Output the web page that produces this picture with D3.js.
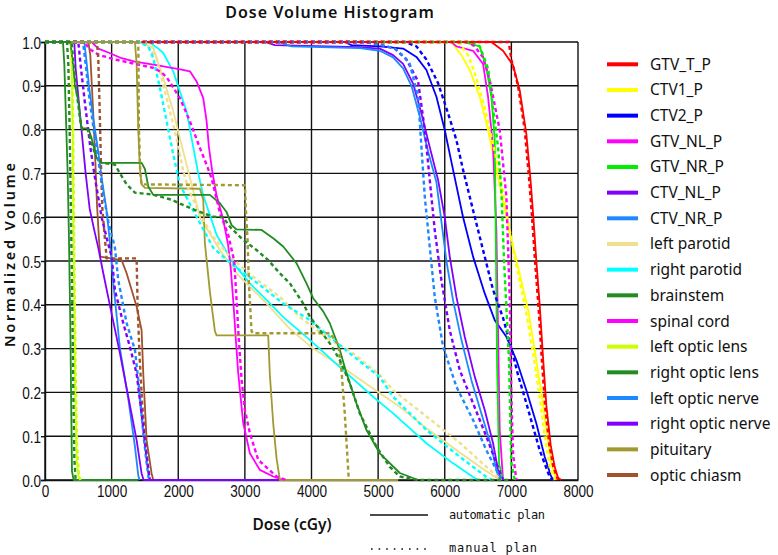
<!DOCTYPE html>
<html><head><meta charset="utf-8">
<script src="https://cdn.jsdelivr.net/npm/d3@7"></script>
<style>body{margin:0;background:#fff}svg{display:block}</style>
</head><body><svg id="c" width="778" height="555"></svg>
<script>
// ---------- DATA ----------
const structureNames = ["GTV_T_P","CTV1_P","CTV2_P","GTV_NL_P","GTV_NR_P","CTV_NL_P","CTV_NR_P",
  "left parotid","right parotid","brainstem","spinal cord","left optic lens","right optic lens",
  "left optic nerve","right optic nerve","pituitary","optic chiasm"];
const xTickValues = [0,1000,2000,3000,4000,5000,6000,7000,8000];
const yTickValues = [0,0.1,0.2,0.3,0.4,0.5,0.6,0.7,0.8,0.9,1.0];
const planLabels = ["automatic plan","manual plan"];

// [dose cGy, normalized volume]
const gtvT_auto = [[1450,1],[6700,1],[6875,0.98],[7025,0.947],[7125,0.89],[7225,0.79],[7290,0.68],[7330,0.6],[7375,0.5],[7425,0.4],[7475,0.28],[7525,0.17],[7590,0.08],[7650,0.03],[7700,0.005],[7750,0]];
const gtvT_manual = [[1450,1],[6960,1],[7000,0.96],[7100,0.9],[7200,0.8],[7270,0.68],[7310,0.6],[7355,0.5],[7405,0.4],[7455,0.28],[7505,0.17],[7570,0.08],[7630,0.03],[7700,0]];
const ctv1_auto = [[0,1],[6100,1],[6250,0.97],[6375,0.936],[6525,0.875],[6650,0.799],[6775,0.708],[6925,0.6],[7075,0.502],[7250,0.39],[7350,0.297],[7450,0.2],[7525,0.114],[7600,0.038],[7675,0]];
const ctv1_manual = [[0,1],[6200,1],[6350,0.97],[6450,0.93],[6600,0.85],[6750,0.75],[6850,0.68],[6950,0.59],[7075,0.49],[7225,0.38],[7325,0.29],[7425,0.19],[7500,0.1],[7575,0.03],[7650,0]];
const ctv2_auto = [[0,1],[4500,1],[4600,0.993],[5025,0.99],[5375,0.985],[5575,0.966],[5725,0.936],[5875,0.875],[6000,0.799],[6125,0.708],[6275,0.6],[6425,0.51],[6600,0.426],[6750,0.365],[6925,0.327],[7075,0.274],[7225,0.205],[7375,0.129],[7500,0.053],[7600,0.007],[7650,0]];
const ctv2_manual = [[0,1],[5400,1],[5575,0.99],[5725,0.96],[5900,0.906],[6050,0.837],[6175,0.776],[6275,0.708],[6425,0.616],[6575,0.525],[6725,0.434],[6875,0.37],[7000,0.3],[7100,0.24],[7225,0.175],[7425,0.068],[7575,0.007],[7625,0]];
const gtvNL_auto = [[0,1],[6100,1],[6175,0.99],[6425,0.98],[6575,0.95],[6650,0.875],[6725,0.76],[6775,0.57],[6800,0.34],[6825,0.114],[6875,0]];
const gtvNL_manual = [[0,1],[6350,1],[6450,0.99],[6575,0.965],[6675,0.913],[6825,0.799],[6925,0.647],[6975,0.418],[7000,0.19],[7025,0.06],[7075,0]];
const gtvNR_auto = [[0,1],[6275,1],[6525,0.99],[6625,0.94],[6700,0.875],[6750,0.776],[6765,0.57],[6785,0.266],[6815,0.038],[6875,0]];
const gtvNR_manual = [[0,1],[6400,1],[6525,0.99],[6650,0.94],[6725,0.85],[6800,0.76],[6850,0.66],[6890,0.5],[6930,0.38],[6965,0.27],[6985,0.12],[7000,0.04],[7050,0]];
const ctvNL_auto = [[0,1],[3300,1],[3450,0.993],[4725,0.988],[5025,0.985],[5225,0.97],[5375,0.95],[5525,0.905],[5650,0.837],[5775,0.76],[5900,0.685],[6000,0.6],[6075,0.51],[6175,0.418],[6300,0.327],[6450,0.236],[6600,0.16],[6725,0.084],[6800,0.023],[6850,0]];
const ctvNL_manual = [[0,1],[4800,1],[5000,0.995],[5250,0.985],[5425,0.96],[5600,0.91],[5700,0.8],[5775,0.685],[5850,0.57],[5950,0.456],[6075,0.342],[6225,0.251],[6425,0.175],[6625,0.099],[6775,0.038],[6875,0]];
const ctvNR_auto = [[0,1],[3500,1],[3700,0.99],[4725,0.986],[5025,0.98],[5225,0.965],[5375,0.94],[5500,0.9],[5625,0.83],[5750,0.75],[5875,0.68],[5950,0.59],[6025,0.5],[6125,0.41],[6250,0.32],[6400,0.228],[6550,0.152],[6700,0.076],[6775,0.023],[6825,0]];
const ctvNR_manual = [[0,1],[4800,1],[5000,0.995],[5250,0.985],[5400,0.965],[5475,0.95],[5600,0.875],[5650,0.76],[5700,0.647],[5775,0.532],[5850,0.418],[5975,0.304],[6175,0.213],[6425,0.137],[6625,0.068],[6775,0.023],[6850,0]];
const lParotid_auto = [[0,1],[1450,1],[1625,0.986],[1775,0.918],[1925,0.842],[2025,0.78],[2125,0.72],[2225,0.66],[2325,0.6],[2625,0.525],[2875,0.472],[3175,0.426],[3375,0.395],[3675,0.345],[4025,0.3],[4525,0.251],[5025,0.198],[5325,0.167],[5725,0.118],[6225,0.063],[6575,0.025],[6825,0]];
const lParotid_manual = [[0,1],[1500,1],[1675,0.963],[1825,0.872],[1975,0.78],[2075,0.705],[2150,0.665],[2300,0.615],[2500,0.56],[2775,0.51],[3125,0.464],[3525,0.418],[3825,0.372],[4275,0.32],[4575,0.295],[5025,0.24],[5225,0.205],[5725,0.145],[6225,0.085],[6625,0.03],[6850,0]];
const rParotid_auto = [[0,1],[1300,1],[1575,0.998],[1700,0.985],[1775,0.975],[1925,0.933],[2025,0.887],[2125,0.842],[2225,0.76],[2300,0.7],[2375,0.65],[2575,0.56],[2825,0.495],[3075,0.449],[3375,0.403],[3575,0.372],[3975,0.32],[4475,0.251],[4925,0.19],[5225,0.152],[5725,0.084],[6125,0.038],[6425,0.007],[6500,0]];
const rParotid_manual = [[0,1],[1400,1],[1550,0.99],[1625,0.963],[1725,0.895],[1825,0.819],[1925,0.743],[2025,0.674],[2275,0.601],[2525,0.53],[2825,0.49],[3125,0.457],[3575,0.403],[3975,0.365],[4575,0.289],[5025,0.235],[5225,0.19],[5725,0.114],[6225,0.053],[6625,0.007],[6700,0]];
const brainstem_auto = [[0,1],[380,1],[420,0.95],[450,0.9],[500,0.865],[540,0.81],[560,0.803],[650,0.803],[700,0.78],[775,0.735],[850,0.724],[1450,0.724],[1500,0.71],[1550,0.67],[1625,0.651],[2475,0.651],[2625,0.632],[2725,0.612],[2800,0.582],[2875,0.572],[3250,0.571],[3425,0.552],[3575,0.533],[3775,0.495],[3925,0.449],[4025,0.415],[4175,0.385],[4275,0.358],[4425,0.297],[4525,0.244],[4675,0.175],[4825,0.114],[5025,0.061],[5325,0.016],[5600,0]];
const brainstem_manual = [[0,1],[400,1],[440,0.93],[480,0.88],[530,0.82],[560,0.8],[640,0.8],[700,0.77],[770,0.735],[850,0.724],[1050,0.72],[1125,0.7],[1225,0.675],[1350,0.656],[1600,0.652],[1900,0.64],[2100,0.626],[2375,0.609],[2525,0.601],[2675,0.6],[2775,0.578],[2975,0.548],[3175,0.525],[3350,0.502],[3525,0.472],[3675,0.449],[3875,0.403],[3975,0.373],[4275,0.312],[4425,0.274],[4575,0.221],[4725,0.152],[4975,0.076],[5175,0.03],[5325,0.008],[5600,0],[7000,0]];
const spinal_auto = [[0,1],[700,1],[800,0.985],[950,0.976],[1150,0.963],[1350,0.955],[1650,0.948],[2050,0.937],[2175,0.933],[2275,0.91],[2375,0.872],[2425,0.82],[2460,0.76],[2510,0.705],[2575,0.65],[2675,0.595],[2750,0.535],[2790,0.48],[2830,0.4],[2860,0.33],[2900,0.244],[2975,0.13],[3075,0.061],[3225,0.023],[3425,0.008],[3575,0]];
const spinal_manual = [[0,1],[600,1],[650,0.986],[800,0.971],[1050,0.96],[1650,0.94],[1750,0.93],[1825,0.92],[2025,0.872],[2175,0.819],[2325,0.758],[2425,0.72],[2500,0.689],[2625,0.61],[2750,0.56],[2840,0.5],[2880,0.4],[2905,0.33],[2950,0.23],[3000,0.16],[3075,0.107],[3200,0.046],[3475,0.008],[3625,0]];
const lLens_auto = [[0,1],[390,1],[400,0.95],[415,0.8],[425,0.6],[440,0.4],[455,0.2],[475,0.05],[500,0.01],[525,0]];
const lLens_manual = [[0,1],[400,1],[410,0.95],[425,0.75],[440,0.5],[460,0.25],[480,0.08],[510,0.01],[530,0]];
const rLens_auto = [[0,1],[270,1],[290,0.95],[320,0.8],[340,0.7],[360,0.55],[380,0.35],[395,0.15],[405,0.02],[430,0],[1400,0]];
const rLens_manual = [[0,1],[330,1],[350,0.95],[370,0.8],[390,0.6],[410,0.4],[425,0.2],[440,0.05],[460,0]];
const lNerve_auto = [[0,1],[590,1],[620,0.96],[660,0.9],[720,0.83],[790,0.76],[860,0.68],[920,0.62],[970,0.55],[1025,0.45],[1125,0.3],[1250,0.185],[1350,0.076],[1400,0.01],[1420,0]];
const lNerve_manual = [[0,1],[570,1],[610,0.95],[660,0.88],[730,0.8],[800,0.73],[880,0.65],[950,0.59],[1000,0.56],[1050,0.53],[1100,0.456],[1225,0.358],[1350,0.297],[1400,0.228],[1475,0.107],[1525,0.04],[1560,0]];
const rNerve_auto = [[0,1],[440,1],[460,0.94],[510,0.86],[560,0.78],[610,0.7],[670,0.62],[740,0.57],[800,0.53],[875,0.472],[1000,0.38],[1125,0.289],[1250,0.19],[1375,0.091],[1450,0.015],[1480,0],[3525,0]];
const rNerve_manual = [[0,1],[500,1],[540,0.94],[600,0.86],[680,0.76],[760,0.68],[850,0.6],[930,0.55],[1000,0.51],[1050,0.433],[1175,0.358],[1275,0.304],[1375,0.243],[1450,0.152],[1525,0.053],[1575,0]];
const pituitary_auto = [[0,1],[1350,1],[1375,0.95],[1400,0.8],[1425,0.71],[1450,0.675],[1500,0.667],[2325,0.665],[2375,0.64],[2400,0.54],[2475,0.43],[2550,0.34],[2575,0.33],[3350,0.33],[3375,0.24],[3425,0.13],[3475,0.05],[3525,0],[5300,0]];
const pituitary_manual = [[0,1],[1400,1],[1410,0.8],[1430,0.7],[1450,0.675],[3000,0.673],[3020,0.6],[3040,0.55],[3060,0.45],[3100,0.34],[3125,0.335],[4275,0.335],[4400,0.31],[4450,0.25],[4500,0.15],[4540,0.05],[4560,0]];
const chiasm_auto = [[0,1],[650,1],[680,0.97],[720,0.85],[750,0.75],[780,0.63],[810,0.55],[830,0.51],[1150,0.502],[1225,0.472],[1375,0.396],[1450,0.342],[1475,0.243],[1525,0.091],[1600,0.015],[1625,0]];
const chiasm_manual = [[0,1],[780,1],[800,0.96],[820,0.85],[840,0.72],[860,0.62],[900,0.55],[925,0.506],[1375,0.506],[1390,0.4],[1420,0.28],[1460,0.17],[1500,0.1],[1550,0.02],[1575,0]];

// ---------- STYLE ----------
const lineColors = ["#ff0000","#ffff00","#0000ff","#ff00ff","#00ee00","#8000ff","#1e88ff",
  "#eee08c","#00ffff","#228b22","#ff00ff","#ccff00","#228b22","#1e88ff","#8000ff","#a09a30","#a0522d"];
const drawOrder = [1,2,3,4,5,6,7,8,10,16,13,14,11,15,9,12,0];

const autoCurves = [gtvT_auto,ctv1_auto,ctv2_auto,gtvNL_auto,gtvNR_auto,ctvNL_auto,ctvNR_auto,lParotid_auto,rParotid_auto,brainstem_auto,spinal_auto,lLens_auto,rLens_auto,lNerve_auto,rNerve_auto,pituitary_auto,chiasm_auto];
const manualCurves = [gtvT_manual,ctv1_manual,ctv2_manual,gtvNL_manual,gtvNR_manual,ctvNL_manual,ctvNR_manual,lParotid_manual,rParotid_manual,brainstem_manual,spinal_manual,lLens_manual,rLens_manual,lNerve_manual,rNerve_manual,pituitary_manual,chiasm_manual];

// ---------- CHART ----------
const svg = d3.select("#c");
const X0 = 45, X1 = 578, Y0 = 480, Y1 = 42;
const x = d3.scaleLinear().domain([0,8000]).range([X0,X1]);
const y = d3.scaleLinear().domain([0,1]).range([Y0,Y1]);
const tickFont = "'Liberation Sans',Arial,sans-serif";
const uiFont = "'Noto Sans','Open Sans',sans-serif";

svg.append("rect").attr("width",778).attr("height",555).attr("fill","#fff");

// grid
const grid = svg.append("g").attr("stroke","#111").attr("stroke-width",1.4);
grid.selectAll("line.v").data(xTickValues).join("line")
  .attr("x1",d=>x(d)).attr("x2",d=>x(d)).attr("y1",Y1).attr("y2",Y0);
grid.selectAll("line.h").data(yTickValues).join("line")
  .attr("x1",X0).attr("x2",X1).attr("y1",d=>y(d)).attr("y2",d=>y(d));

// axes
const xAxis = d3.axisBottom(x).tickValues(xTickValues).tickSize(0).tickPadding(5).tickFormat(d3.format("d"));
const yAxis = d3.axisLeft(y).tickValues(yTickValues).tickSize(4).tickPadding(1).tickFormat(d3.format(".1f"));
const gx = svg.append("g").attr("transform",`translate(0,${Y0})`).call(xAxis);
const gy = svg.append("g").attr("transform",`translate(${X0},0)`).call(yAxis);
[gx,gy].forEach(g=>{
  g.select(".domain").attr("stroke","#111").attr("stroke-width",1.4);
  g.selectAll(".tick line").attr("stroke","#111").attr("stroke-width",1.4);
  g.selectAll("text").attr("font-family",tickFont).attr("font-size",17).attr("fill","#111")
    .attr("transform","scale(0.8,1)");
});
gx.selectAll(".tick text").attr("dy","0.72em");
gy.selectAll(".tick text").attr("dy","0.36em");

// curves
const line = d3.line().x(d=>x(d[0])).y(d=>y(d[1]));
const curveG = svg.append("g");
drawOrder.forEach(i=>{
  curveG.append("path").datum(autoCurves[i]).attr("d",line)
    .attr("fill","none").attr("stroke",lineColors[i]).attr("stroke-width",1.8)
    .attr("stroke-linejoin","round");
});
drawOrder.forEach(i=>{
  curveG.append("path").datum(manualCurves[i]).attr("d",line)
    .attr("fill","none").attr("stroke",lineColors[i]).attr("stroke-width",2.4)
    .attr("stroke-dasharray","4,3");
});

// title & axis labels
svg.append("text").attr("x",330).attr("y",18).attr("text-anchor","middle")
  .attr("font-family",uiFont).attr("font-size",16).attr("font-weight",600)
  .attr("letter-spacing",1).attr("fill","#111").text("Dose Volume Histogram");
svg.append("text").attr("transform","translate(15,255) rotate(-90)").attr("text-anchor","middle")
  .attr("font-family",uiFont).attr("font-size",14.5).attr("font-weight",600)
  .attr("textLength",184).attr("lengthAdjust","spacing").attr("fill","#111").text("Normalized Volume");
svg.append("text").attr("x",292).attr("y",530).attr("text-anchor","middle")
  .attr("font-family",uiFont).attr("font-size",15.5).attr("font-weight",600)
  .attr("fill","#111").text("Dose (cGy)");

// plan legend
svg.append("line").attr("x1",370).attr("x2",428).attr("y1",515).attr("y2",515)
  .attr("stroke","#111").attr("stroke-width",1.6);
svg.append("line").attr("x1",371).attr("x2",428).attr("y1",549).attr("y2",549)
  .attr("stroke","#111").attr("stroke-width",1.6).attr("stroke-dasharray","1.6,6");
svg.selectAll("text.plan").data(planLabels).join("text").attr("class","plan")
  .attr("x",449).attr("y",(d,i)=>519+i*33)
  .attr("font-family","'DejaVu Sans Mono',monospace").attr("font-size",12)
  .attr("textLength",(d,i)=>i===0?96:88).attr("lengthAdjust","spacing")
  .attr("fill","#111").text(d=>d);

// structure legend
const leg = svg.append("g");
structureNames.forEach((n,i)=>{
  const yy = 64.3 + i*25.67;
  leg.append("line").attr("x1",607).attr("x2",638).attr("y1",yy).attr("y2",yy)
    .attr("stroke",lineColors[i]).attr("stroke-width",4);
  leg.append("text").attr("x",650).attr("y",yy+5.5).attr("font-family",uiFont)
    .attr("font-size",15.5).attr("fill","#111").text(n);
});
</script></body></html>
